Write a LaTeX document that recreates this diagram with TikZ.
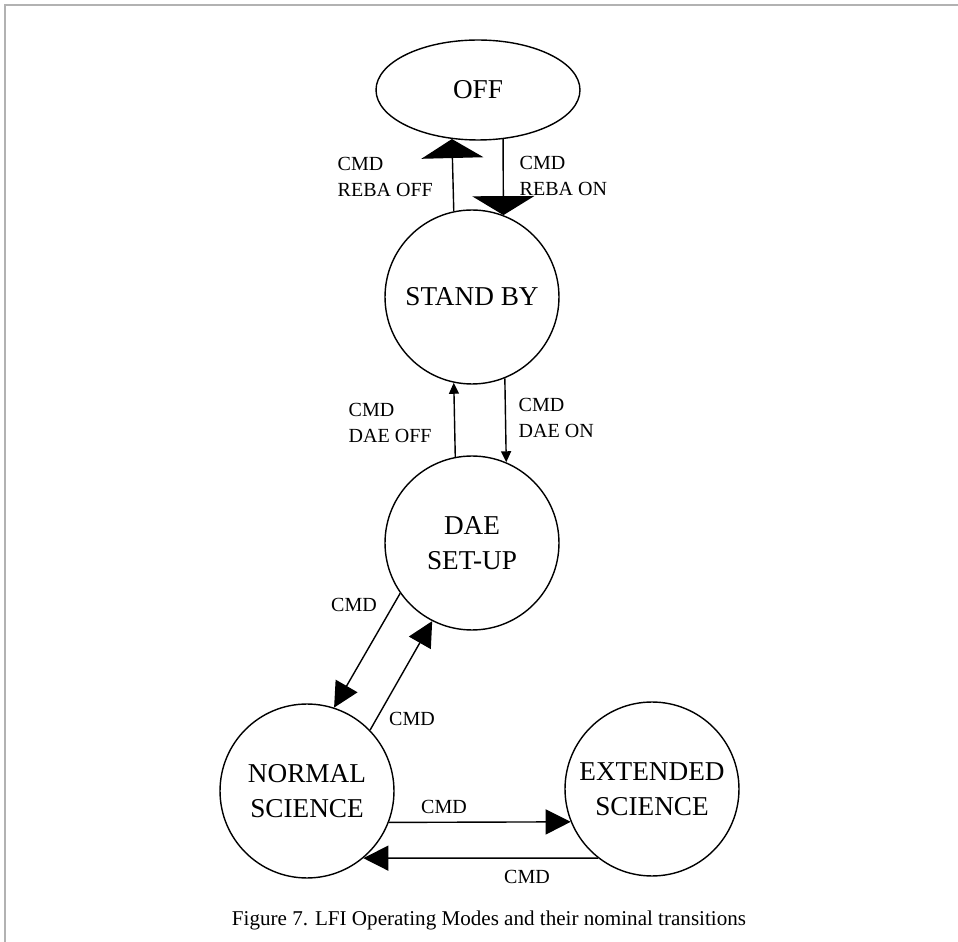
\documentclass[tikz,border=0pt]{standalone}
\usepackage{fontspec}
\setmainfont{Liberation Serif}
\usetikzlibrary{arrows.meta,shapes.geometric}

\begin{document}
\begin{tikzpicture}[x=0.02cm,y=-0.02cm,line width=0.8pt,
  mode/.style={draw,circle,minimum size=3.48cm,inner sep=0pt,align=center,
    font=\fontsize{15.5}{20}\selectfont},
  lab/.style={font=\fontsize{11.4}{15}\selectfont,align=left,inner sep=0pt},
  bigarr/.style={-{Triangle[width=1.24cm,length=0.38cm]}},
  smallarr/.style={-{Triangle[width=0.2cm,length=0.22cm]}},
  midarr/.style={-{Triangle[width=0.5cm,length=0.5cm]}}]
 \useasboundingbox (0,0) rectangle (958,942);
 \draw[gray!60,line width=1pt] (5,942) -- (5,5) -- (958,5);
 % modes
 \node[draw,ellipse,minimum width=4.08cm,minimum height=2cm,inner sep=0pt,
   font=\fontsize{15.5}{20}\selectfont] (off) at (478,90) {OFF};
 \node[mode] (stby) at (472,297) {STAND BY};
 \node[mode] (dae)  at (472,543) {DAE\\SET-UP};
 \node[mode] (norm) at (307,791) {NORMAL\\SCIENCE};
 \node[mode] (ext)  at (652,789) {EXTENDED\\SCIENCE};
 % transitions
 \draw[bigarr] (stby.102.6) -- (off.242.7);
 \draw[bigarr] (off.297.3) -- (stby.69.1);
 \draw[smallarr] (dae.101.9) -- (stby.258.1);
 \draw[smallarr] (stby.292.3) -- (dae.67.7);
 \draw[midarr] (dae.215.8) -- (norm.72.6);
 \draw[midarr] (norm.44.1) -- (dae.243.1);
 \draw[midarr] (norm.339.5) -- (ext.202.4);
 \draw[midarr] (ext.232) -- (norm.310);
 % labels
 \node[lab,anchor=west] (l1) at (337,177) {CMD\\REBA OFF};
 \node[lab,anchor=west] (l2) at (519,176) {CMD\\REBA ON};
 \node[lab,anchor=west] (l3) at (348,423) {CMD\\DAE OFF};
 \node[lab,anchor=west] (l4) at (518,418) {CMD\\DAE ON};
 \node[lab] (l5) at (354,605) {CMD};
 \node[lab] (l6) at (412,719) {CMD};
 \node[lab] (l7) at (444,807) {CMD};
 \node[lab] (l8) at (527,877) {CMD};
 \node[font=\fontsize{12}{14}\selectfont] (cap) at (489,920)
   {Figure 7. LFI Operating Modes and their nominal transitions};
\end{tikzpicture}
\end{document}
